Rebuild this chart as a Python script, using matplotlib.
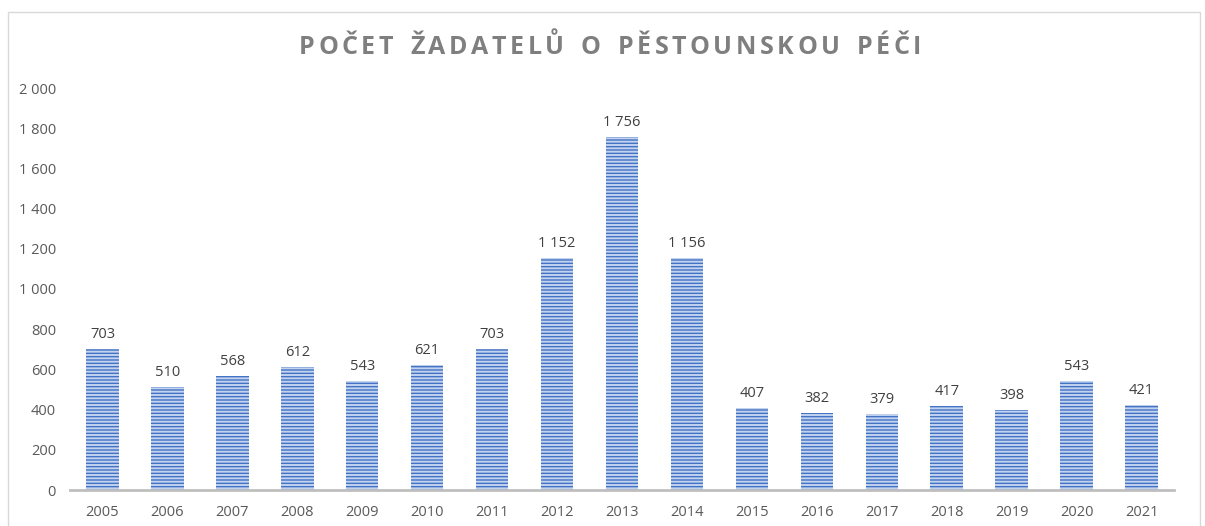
import matplotlib.pyplot as plt
from matplotlib.patches import Rectangle

# data
years = [str(y) for y in range(2005, 2022)]
applicants = [703, 510, 568, 612, 543, 621, 703, 1152, 1756, 1156,
              407, 382, 379, 417, 398, 543, 421]
y_ticks = list(range(0, 2001, 200))
title = "POČET ŽADATELŮ O PĚSTOUNSKOU PÉČI"


def fmt(v):
    return f"{v:,}".replace(",", " ")


plt.rcParams["font.family"] = ["Open Sans", "DejaVu Sans"]
plt.rcParams["hatch.linewidth"] = 1.4

fig = plt.figure(figsize=(12.05, 5.26), dpi=100)
# light chart border
fig.patches.append(Rectangle((8 / 1205, -0.01), 1192 / 1205, (526 - 12) / 526 + 0.01,
                             transform=fig.transFigure, fill=False,
                             edgecolor="#d9d9d9", linewidth=1))

ax = fig.add_axes([70 / 1205, 36 / 526, 1104 / 1205, 402 / 526])
x = range(len(years))
ax.bar(x, applicants, width=0.5, color="#4472c4",
       edgecolor="#c2d3f0", hatch="-----", linewidth=0)

for xi, v in zip(x, applicants):
    ax.text(xi, v + 35, fmt(v), ha="center", va="bottom", fontsize=10.5, color="#404040")

ax.set_xlim(-0.5, len(years) - 0.5)
ax.set_ylim(0, 2000)
ax.set_xticks(list(x))
ax.set_xticklabels(years)
ax.set_yticks(y_ticks)
ax.set_yticklabels([fmt(t) for t in y_ticks])
ax.tick_params(axis="both", length=0, labelsize=10.5, colors="#595959")
ax.tick_params(axis="x", pad=11)
ax.tick_params(axis="y", pad=10)
for s in ["top", "right", "left"]:
    ax.spines[s].set_visible(False)
ax.spines["bottom"].set_color("#bfbfbf")
ax.spines["bottom"].set_linewidth(2)

# title with wide letter spacing: place each character separately
renderer = fig.canvas.get_renderer()
title_kw = dict(fontsize=18, fontweight="bold", color="#7f7f7f", va="center", ha="left")
widths = []
for ch in title:
    t = fig.text(0, 0, ch if ch != " " else "n", **title_kw)
    w = t.get_window_extent(renderer).width
    widths.append(w * 0.6 if ch == " " else w)
    t.remove()
target = 622
gap = (target - sum(widths)) / (len(title) - 1)
xpos = 299
ypos = 1 - 47 / 526
for ch, w in zip(title, widths):
    if ch != " ":
        fig.text(xpos / 1205, ypos, ch, **title_kw)
    xpos += w + gap

fig.savefig("out.png", dpi=100)
